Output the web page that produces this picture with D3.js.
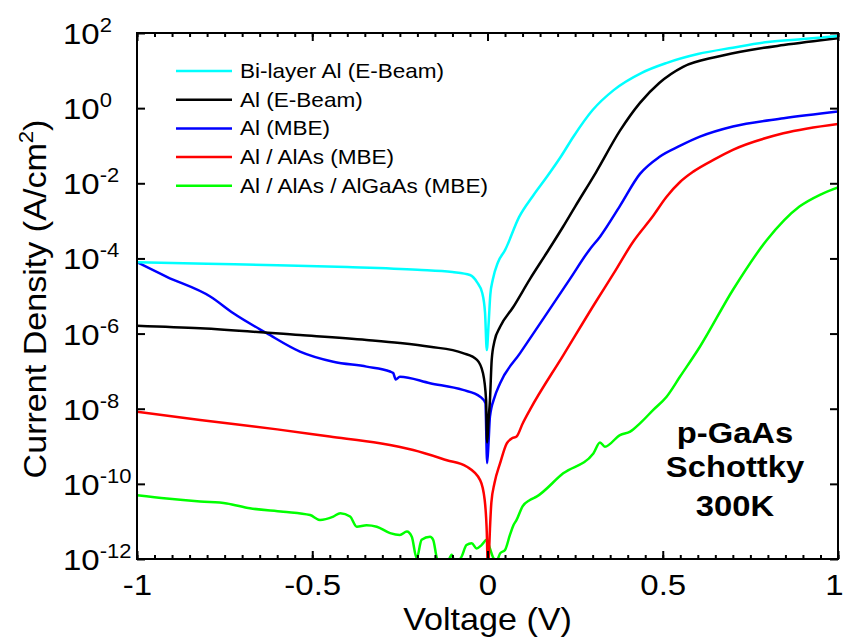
<!DOCTYPE html>
<html>
<head>
<meta charset="utf-8">
<script src="https://cdn.jsdelivr.net/npm/d3@7"></script>
<style>
body { margin: 0; background: #fff; }
text { font-family: "Liberation Sans", Arial, Helvetica, sans-serif; fill: #000; }
</style>
</head>
<body>
<div id="chart"></div>
<script>
// values: voltage (V) and log10 of current density (A/cm^2)
const bilayerV = [-1, -0.8, -0.6, -0.4, -0.2, -0.1, -0.05, -0.03, -0.015, -0.007, -0.002, 0.003, 0.008, 0.015, 0.03, 0.05, 0.09, 0.13, 0.17, 0.21, 0.245, 0.3, 0.36, 0.44, 0.51, 0.6, 0.7, 0.8, 0.9, 1.0];
const bilayerLogJ = [-4.10, -4.14, -4.18, -4.23, -4.30, -4.36, -4.44, -4.63, -4.92, -5.45, -6.44, -5.77, -4.97, -4.57, -4.10, -3.78, -2.90, -2.33, -1.82, -1.28, -0.76, -0.05, 0.48, 0.94, 1.20, 1.44, 1.61, 1.76, 1.84, 1.92];

const ebeamV = [-1, -0.82, -0.535, -0.345, -0.25, -0.164, -0.07, -0.03, -0.013, -0.004, -0.001, 0.003, 0.007, 0.012, 0.02, 0.036, 0.073, 0.121, 0.169, 0.216, 0.25, 0.31, 0.378, 0.435, 0.49, 0.558, 0.655, 0.75, 0.845, 1.0];
const ebeamLogJ = [-5.79, -5.86, -6.04, -6.17, -6.25, -6.35, -6.52, -6.70, -7.05, -7.77, -8.9, -8.3, -7.77, -6.70, -6.2, -5.82, -5.30, -4.55, -3.85, -3.15, -2.62, -1.70, -0.60, 0.14, 0.67, 1.10, 1.37, 1.55, 1.68, 1.86];

const mbeV = [-1, -0.915, -0.79, -0.725, -0.63, -0.535, -0.44, -0.345, -0.278, -0.269, -0.262, -0.25, -0.164, -0.07, -0.021, -0.006, -0.001, 0.003, 0.007, 0.02, 0.036, 0.093, 0.169, 0.235, 0.29, 0.321, 0.378, 0.435, 0.49, 0.55, 0.606, 0.70, 0.845, 1.0];
const mbeLogJ = [-4.10, -4.49, -5.02, -5.46, -5.99, -6.48, -6.75, -6.88, -7.01, -7.05, -7.22, -7.15, -7.32, -7.50, -7.68, -7.85, -9.45, -8.9, -8.21, -7.7, -7.32, -6.52, -5.47, -4.55, -3.78, -3.42, -2.6, -1.75, -1.3, -1.0, -0.76, -0.49, -0.27, -0.09];

const alasV = [-1, -0.82, -0.6, -0.45, -0.307, -0.212, -0.116, -0.06, -0.021, -0.008, -0.002, 0.001, 0.004, 0.007, 0.011, 0.02, 0.036, 0.055, 0.065, 0.069, 0.083, 0.1, 0.121, 0.216, 0.31, 0.36, 0.416, 0.47, 0.511, 0.55, 0.587, 0.65, 0.70, 0.844, 1.0];
const alasLogJ = [-8.08, -8.30, -8.55, -8.74, -8.92, -9.10, -9.37, -9.54, -9.90, -10.43, -11.3, -12.3, -11.9, -11.2, -10.5, -9.98, -9.45, -8.92, -8.82, -8.79, -8.74, -8.4, -8.03, -6.58, -5.14, -4.4, -3.55, -2.9, -2.36, -1.96, -1.69, -1.35, -1.11, -0.67, -0.42];

const alganV = [-1, -0.915, -0.82, -0.744, -0.678, -0.583, -0.506, -0.478, -0.44, -0.42, -0.392, -0.373, -0.345, -0.316, -0.278, -0.25, -0.23, -0.216, -0.202, -0.188, -0.164, -0.155, -0.143, -0.116, -0.102, -0.093, -0.074, -0.06, -0.045, -0.031, -0.017, -0.002, 0.007, 0.017, 0.026, 0.036, 0.05, 0.064, 0.074, 0.083, 0.1, 0.121, 0.14, 0.216, 0.302, 0.321, 0.335, 0.378, 0.407, 0.435, 0.473, 0.511, 0.549, 0.606, 0.70, 0.797, 0.89, 0.95, 1.0];
const alganLogJ = [-10.30, -10.39, -10.47, -10.52, -10.65, -10.74, -10.83, -10.96, -10.87, -10.78, -10.87, -11.14, -11.10, -11.14, -11.31, -11.36, -11.27, -11.41, -11.98, -11.49, -11.41, -11.49, -12.0, -12.1, -11.89, -12.1, -11.94, -11.63, -11.58, -11.72, -11.63, -11.49, -11.72, -11.98, -12.05, -11.85, -11.76, -11.36, -11.1, -10.96, -10.6, -10.43, -10.34, -9.72, -9.19, -8.90, -9.01, -8.70, -8.61, -8.39, -8.03, -7.68, -7.15, -6.35, -4.84, -3.51, -2.62, -2.3, -2.11];

const seriesNames = ['Bi-layer Al (E-Beam)', 'Al (E-Beam)', 'Al (MBE)', 'Al / AlAs (MBE)', 'Al / AlAs / AlGaAs (MBE)'];
const seriesColors = ['#00ffff', '#000000', '#0000ff', '#ff0000', '#00ff00'];
const seriesV = [bilayerV, ebeamV, mbeV, alasV, alganV];
const seriesLogJ = [bilayerLogJ, ebeamLogJ, mbeLogJ, alasLogJ, alganLogJ];

const xMajorTicks = [-1, -0.5, 0, 0.5, 1];
const yExponents = [2, 0, -2, -4, -6, -8, -10, -12];
const noteLines = ['p-GaAs', 'Schottky', '300K'];

const width = 843;
const height = 640;
const margin = { top: 33, right: 5, bottom: 81, left: 137 };
const sx = 1.1; // the original lettering is a bit wider than Arial

const series = seriesNames.map((name, i) => ({
    name,
    color: seriesColors[i],
    points: seriesV[i].map((v, k) => ({ v, j: Math.pow(10, seriesLogJ[i][k]) }))
}));

const svg = d3.select('#chart')
    .append('svg')
    .attr('width', width)
    .attr('height', height);

const xScale = d3.scaleLinear().domain([-1, 1]).range([margin.left, width - margin.right]);
const yScale = d3.scaleLog().domain([1e-12, 1e2]).range([height - margin.bottom, margin.top]);

const plotLeft = xScale.range()[0], plotRight = xScale.range()[1];
const plotTop = yScale.range()[1], plotBottom = yScale.range()[0];

svg.append('clipPath').attr('id', 'plot-clip')
    .append('rect')
    .attr('x', plotLeft).attr('y', plotTop)
    .attr('width', plotRight - plotLeft).attr('height', plotBottom - plotTop);

// curves (drawn so that cyan ends up on top)
const line = d3.line()
    .x((d) => xScale(d.v))
    .y((d) => yScale(d.j))
    .curve(d3.curveMonotoneX);
svg.append('g')
    .attr('clip-path', 'url(#plot-clip)')
    .selectAll('path')
    .data(series.slice().reverse())
    .join('path')
    .attr('d', (d) => line(d.points))
    .attr('fill', 'none')
    .attr('stroke', (d) => d.color)
    .attr('stroke-width', 2.5)
    .attr('stroke-linejoin', 'round');

// ticks
const minorX = d3.range(-20, 21).map((i) => i / 20);
function tickStyle(g) {
    g.select('.domain').remove();
    g.selectAll('.tick line').attr('stroke', '#000').attr('stroke-width', 2);
}
svg.append('g').attr('transform', `translate(0,${plotBottom})`)
    .call(d3.axisBottom(xScale).tickValues(minorX).tickSize(-4).tickFormat('')).call(tickStyle);
svg.append('g').attr('transform', `translate(0,${plotTop})`)
    .call(d3.axisTop(xScale).tickValues(minorX).tickSize(-4).tickFormat('')).call(tickStyle);
svg.append('g').attr('transform', `translate(0,${plotTop})`)
    .call(d3.axisTop(xScale).tickValues(xMajorTicks).tickSize(-8).tickFormat('')).call(tickStyle);

const xAxis = svg.append('g').attr('transform', `translate(0,${plotBottom})`)
    .call(d3.axisBottom(xScale).tickValues(xMajorTicks).tickSize(-8).tickFormat((d) => String(d)))
    .call(tickStyle);
xAxis.selectAll('.tick text')
    .attr('y', null).attr('dy', null)
    .attr('fill', '#000')
    .attr('font-size', 30)
    .attr('font-family', '"Liberation Sans", Arial, sans-serif')
    .attr('text-anchor', 'middle')
    .attr('transform', (d) => `translate(${d === 1 ? -4 : 0},36) scale(${sx},1)`);

const yTicks = yExponents.map((e) => Math.pow(10, e));
svg.append('g').attr('transform', `translate(${plotRight},0)`)
    .call(d3.axisRight(yScale).tickValues(yTicks).tickSize(-8).tickFormat('')).call(tickStyle);
const yAxis = svg.append('g').attr('transform', `translate(${plotLeft},0)`)
    .call(d3.axisLeft(yScale).tickValues(yTicks).tickSize(-8).tickFormat('')).call(tickStyle);

yAxis.selectAll('.tick').each(function (d) {
    const e = Math.round(Math.log10(d));
    const t = d3.select(this).append('text')
        .attr('text-anchor', 'start')
        .attr('font-size', 30)
        .attr('transform', `translate(-74,10.5) scale(${sx},1)`);
    t.append('tspan').text('10');
    t.append('tspan').attr('font-size', 20).attr('dy', -12).text(String(e));
});

// frame
svg.append('rect')
    .attr('x', plotLeft).attr('y', plotTop)
    .attr('width', plotRight - plotLeft).attr('height', plotBottom - plotTop)
    .attr('fill', 'none').attr('stroke', '#000').attr('stroke-width', 2);

// axis titles
svg.append('text')
    .attr('text-anchor', 'middle')
    .attr('font-size', 31)
    .attr('transform', `translate(${(plotLeft + plotRight) / 2},630) scale(${sx},1)`)
    .text('Voltage (V)');

const yTitle = svg.append('text')
    .attr('text-anchor', 'middle')
    .attr('font-size', 31)
    .attr('transform', `translate(46,${(plotTop + plotBottom) / 2 + 3}) rotate(-90) scale(${sx},1)`);
yTitle.append('tspan').text('Current Density (A/cm');
yTitle.append('tspan').attr('font-size', 20).attr('dy', -13).text('2');
yTitle.append('tspan').attr('dy', 13).text(')');

// legend
const legend = svg.append('g').attr('transform', 'translate(176,71)');
const rows = legend.selectAll('g').data(series).join('g')
    .attr('transform', (d, i) => `translate(0,${i * 28.7})`);
rows.append('line')
    .attr('x1', 0).attr('x2', 56).attr('y1', 0).attr('y2', 0)
    .attr('stroke', (d) => d.color).attr('stroke-width', 2.5);
rows.append('text')
    .attr('font-size', 20.5)
    .attr('transform', `translate(64,7) scale(${sx},1)`)
    .text((d) => d.name);

// annotation
const noteY = [443, 477, 516];
svg.append('g').selectAll('text').data(noteLines).join('text')
    .attr('text-anchor', 'middle')
    .attr('font-size', 29)
    .attr('font-weight', 'bold')
    .attr('transform', (d, i) => `translate(735,${noteY[i]}) scale(1.13,1)`)
    .text((d) => d);
</script>
</body>
</html>
